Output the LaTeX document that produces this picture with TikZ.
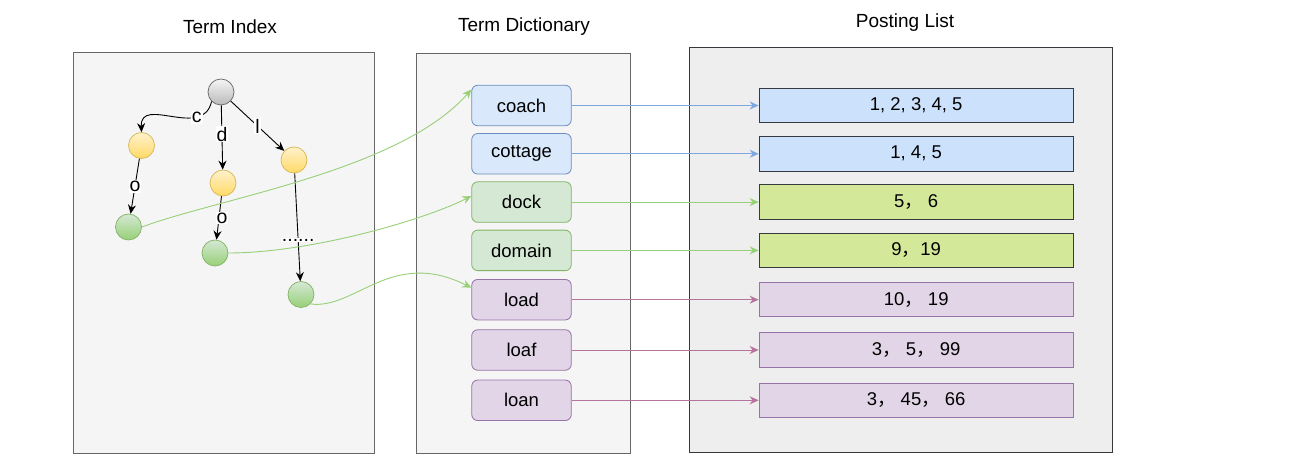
\documentclass[tikz,border=0pt]{standalone}
\usepackage{fontspec}
\setmainfont{Liberation Sans}
\newfontfamily\cjk{Noto Sans CJK SC}
\usepackage{xcolor}
\usetikzlibrary{arrows.meta, positioning}

\definecolor{panelgray}{HTML}{F5F5F5}
\definecolor{postgray}{HTML}{EEEEEE}
\definecolor{edgegray}{HTML}{666666}
\definecolor{darkedge}{HTML}{36393D}
\definecolor{bluefill}{HTML}{DAE8FC}
\definecolor{blueline}{HTML}{6C8EBF}
\definecolor{bluearrow}{HTML}{7EA6E0}
\definecolor{postblue}{HTML}{CCE2FC}
\definecolor{greenfill}{HTML}{D5E8D4}
\definecolor{greenline}{HTML}{82B366}
\definecolor{greenarrow}{HTML}{97D077}
\definecolor{postgreen}{HTML}{D4E899}
\definecolor{purplefill}{HTML}{E1D5E7}
\definecolor{purpleline}{HTML}{9673A6}
\definecolor{purplearrow}{HTML}{B5739D}
\definecolor{yellowtop}{HTML}{FFF2CC}
\definecolor{yellowbot}{HTML}{FFD966}
\definecolor{yellowline}{HTML}{D6B656}

\newcommand{\fwc}{{\cjk ，}}

\begin{document}
\begin{tikzpicture}[
        x=1pt, y=-1pt,
        font=\fontsize{18.5}{21}\selectfont,
        panel/.style={
            rectangle, draw=edgegray, line width=0.8pt,
            fill=panelgray, inner sep=0pt
        },
        title/.style={font=\fontsize{19}{22}\selectfont},
        term/.style={
            rectangle, rounded corners=6pt,
            line width=0.8pt,
            minimum width=99.5pt, minimum height=40.5pt,
            inner sep=0pt
        },
        post/.style={
            rectangle, line width=1pt,
            minimum width=314pt, minimum height=34.5pt,
            inner sep=0pt
        },
        dot/.style={circle, minimum size=26pt, inner sep=0pt, line width=0.7pt},
        lbl/.style={fill=white, inner sep=1pt, font=\fontsize{19.5}{21}\selectfont},
        arr/.style={-{Stealth[length=9pt,width=8pt]}, line width=0.9pt, black},
        link/.style={-{Stealth[length=9pt,width=8pt]}, line width=0.9pt, #1}
    ]
    \useasboundingbox (0,0) rectangle (1302,470);

    % three panels
    \node[panel, minimum width=301pt, minimum height=401pt] (index) at (223.5,252.5) {};
    \node[panel, minimum width=214pt, minimum height=400pt] (dict) at (523,253) {};
    \node[panel, fill=postgray, draw=darkedge, minimum width=423pt, minimum height=405pt] (plist) at (900.5,249.5) {};

    \node[title] (index-title) at (230,27) {Term Index};
    \node[title] (dict-title) at (524,27) {Term Dictionary};
    \node[title] (plist-title) at (905,23) {Posting List};

    % term index tree
    \node[dot, draw=edgegray, top color=gray!8, bottom color=gray!55] (root) at (221,92) {};
    \node[dot, draw=yellowline, top color=yellowtop, bottom color=yellowbot] (c) at (141.5,145.5) {};
    \node[dot, draw=yellowline, top color=yellowtop, bottom color=yellowbot] (d) at (223,183) {};
    \node[dot, draw=yellowline, top color=yellowtop, bottom color=yellowbot] (l) at (294,160) {};
    \node[dot, draw=greenline, top color=greenfill, bottom color=greenarrow] (co) at (128.5,227) {};
    \node[dot, draw=greenline, top color=greenfill, bottom color=greenarrow] (do) at (215,253) {};
    \node[dot, draw=greenline, top color=greenfill, bottom color=greenarrow] (lo) at (301,294.5) {};

    \draw[arr] (root.south west) .. controls (203,140) and (140,95) .. node[lbl, pos=0.25] {c} (c.north);
    \draw[arr] (root) -- node[lbl, pos=0.45] {d} (d);
    \draw[arr] (root) -- node[lbl, pos=0.5] {l} (l);
    \draw[arr] (c) -- node[lbl, pos=0.5] {o} (co);
    \draw[arr] (d) -- node[lbl, pos=0.5, xshift=3pt] {o} (do);
    \draw[arr] (l) -- node[lbl, pos=0.62] {......} (lo);

    % term dictionary
    \node[term, draw=blueline, fill=bluefill] (coach) at (521.5,105.5) {coach};
    \node[term, draw=blueline, fill=bluefill, below=7pt of coach] (cottage) {cottage};
    \node[term, draw=greenline, fill=greenfill, below=7pt of cottage] (dock) {dock};
    \node[term, draw=greenline, fill=greenfill, below=7pt of dock] (domain) {domain};
    \node[term, draw=purpleline, fill=purplefill, below=8pt of domain] (load) {load};
    \node[term, draw=purpleline, fill=purplefill, below=9pt of load] (loaf) {loaf};
    \node[term, draw=purpleline, fill=purplefill, below=9pt of loaf] (loan) {loan};

    % posting list
    \node[post, draw=darkedge, fill=postblue, right=187pt of coach] (p1) {1, 2, 3, 4, 5};
    \node[post, draw=darkedge, fill=postblue, right=187pt of cottage] (p2) {1, 4, 5};
    \node[post, draw=darkedge, fill=postgreen, right=187pt of dock] (p3) {5\fwc\ 6};
    \node[post, draw=darkedge, fill=postgreen, right=187pt of domain] (p4) {9\fwc 19};
    \node[post, draw=purpleline, fill=purplefill, right=187pt of load] (p5) {10\fwc\ 19};
    \node[post, draw=purpleline, fill=purplefill, right=187pt of loaf] (p6) {3\fwc\ 5\fwc\ 99};
    \node[post, draw=purpleline, fill=purplefill, right=187pt of loan] (p7) {3\fwc\ 45\fwc\ 66};

    \draw[link=bluearrow] (coach) -- (p1);
    \draw[link=bluearrow] (cottage) -- (p2);
    \draw[link=greenarrow] (dock) -- (p3);
    \draw[link=greenarrow] (domain) -- (p4);
    \draw[link=purplearrow] (load) -- (p5);
    \draw[link=purplearrow] (loaf) -- (p6);
    \draw[link=purplearrow] (loan) -- (p7);

    % leaves to terms
    \draw[link=greenarrow] (co.east) .. controls +(78,-29) and +(-71,81) .. ([yshift=16pt]coach.west);
    \draw[link=greenarrow] (do.east) .. controls +(80,0) and +(-50,25) .. ([yshift=6pt]dock.west);
    \draw[link=greenarrow] (lo.south east) .. controls +(45,6) and +(-80,-40) .. ([yshift=12pt]load.west);

\end{tikzpicture}
\end{document}
